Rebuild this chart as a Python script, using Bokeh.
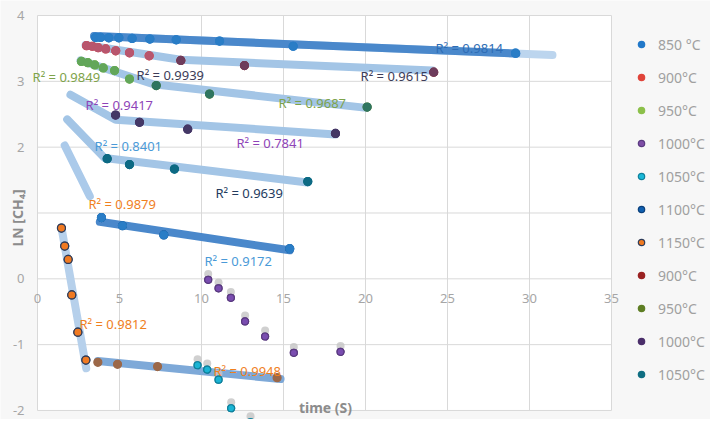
import math
from bokeh.plotting import figure
from bokeh.models import (ColumnDataSource, LabelSet, Label, Legend, LegendItem)
from bokeh.transform import dodge
from bokeh.core.properties import value
from bokeh.embed import file_html
from bokeh.resources import INLINE

FONT = "Noto Sans"

# ---------------- data ----------------
x_ticks = [0, 5, 10, 15, 20, 25, 30, 35]
x_tick_labels = ["0", "5", "10", "15", "20", "25", "30", "35"]
y_ticks = [-2, -1, 0, 1, 2, 3, 4]
y_tick_labels = ["-2", "-1", "0", "", "2", "3", "4"]   # "1" is hidden under the axis title

s850_x = [3.54, 3.84, 4.35, 4.96, 5.77, 6.85, 8.46, 11.10, 15.59, 29.15]
s850_y = [3.667, 3.667, 3.661, 3.661, 3.652, 3.642, 3.631, 3.612, 3.533, 3.428]
s900a_x = [2.99, 3.34, 3.70, 4.16, 4.77, 5.61, 6.81]
s900a_y = [3.542, 3.533, 3.512, 3.493, 3.463, 3.433, 3.388]
s900b_x = [8.74, 12.62, 24.16]
s900b_y = [3.318, 3.239, 3.139]
s950a_x = [2.68, 3.07, 3.49, 4.01, 4.70, 5.61]
s950a_y = [3.303, 3.284, 3.249, 3.204, 3.164, 3.034]
s950b_x = [7.24, 10.49, 20.10]
s950b_y = [2.936, 2.806, 2.609]
s1000b_x = [4.76, 6.22, 9.16, 18.17]
s1000b_y = [2.488, 2.378, 2.273, 2.209]
s1050b_x = [4.25, 5.61, 8.35, 16.48]
s1050b_y = [1.825, 1.736, 1.667, 1.478]
s1100_x = [3.90, 5.18, 7.70, 15.38]
s1100_y = [0.930, 0.806, 0.667, 0.458]
s1150a_x = [1.46, 1.66, 1.87, 2.09, 2.46, 2.95]
s1150a_y = [0.771, 0.497, 0.294, -0.244, -0.811, -1.234]
s1150b_x = [3.68, 4.88, 7.32, 14.61]
s1150b_y = [-1.269, -1.299, -1.333, -1.502]
s1000a_x = [10.41, 11.04, 11.79, 12.66, 13.88, 15.63, 18.48]
s1000a_y = [-0.015, -0.144, -0.289, -0.647, -0.876, -1.124, -1.109]
s1050a_x = [9.76, 10.35, 11.04, 11.81, 12.99, 14.60]
s1050a_y = [-1.313, -1.378, -1.532, -1.966, -2.179, -2.300]

# legend entries: label, series, key colour, key outline, colour seen in the plot
legend_labels = ["850 °C", "900°C", "950°C", "1000°C", "1050°C", "1100°C",
                 "1150°C", "900°C", "950°C", "1000°C", "1050°C"]
legend_series = [(s850_x, s850_y), (s900a_x, s900a_y), (s950a_x, s950a_y),
                 (s1000a_x, s1000a_y), (s1050a_x, s1050a_y), (s1100_x, s1100_y),
                 (s1150a_x, s1150a_y), (s900b_x, s900b_y), (s950b_x, s950b_y),
                 (s1000b_x, s1000b_y), (s1050b_x, s1050b_y)]
legend_colors = ["#2178c9", "#e0443a", "#8cc04a", "#7e4ea6", "#1ab8d8", "#1060b0",
                 "#f07a20", "#9a2222", "#5e7e24", "#4a2e6a", "#0f6e82"]
legend_lines = ["#2178c9", "#e0443a", "#8cc04a", "#5a3a80", "#0f7f9a", "#0b3f7a",
                "#2c3b5a", "#9a2222", "#5e7e24", "#4a2e6a", "#0f6e82"]
seen_colors = ["#2a7dc6", "#b8566e", "#62a65a", "#7a4db0", "#1ab4d4", "#2a7dc6",
               "#f07a22", "#6e3c5c", "#2f7560", "#443866", "#0d6a84"]
seen_lines = ["#2a7dc6", "#b8566e", "#62a65a", "#5a3a80", "#0f7f9a", "#2a7dc6",
              "#2c3b5a", "#6e3c5c", "#2f7560", "#443866", "#0d6a84"]
legend_sizes = [8, 8, 8, 7, 7, 8, 8, 8, 8, 8, 8]

# trend lines (end / kink points)
t850l_x = [3.45, 31.4];            t850l_y = [3.687, 3.400]
t850d_x = [3.45, 29.2];            t850d_y = [3.687, 3.423]
t900_x = [2.93, 8.72, 24.09];      t900_y = [3.552, 3.328, 3.164]
t950_x = [2.62, 7.07, 20.06];      t950_y = [3.318, 2.955, 2.597]
t1000_x = [2.01, 4.76, 18.17];     t1000_y = [2.796, 2.418, 2.194]
t1050_x = [1.81, 4.09, 16.46];     t1050_y = [2.422, 1.836, 1.463]
t1100s_x = [1.66, 3.19];           t1100s_y = [2.025, 1.254]
t1100_x = [3.80, 15.38];           t1100_y = [0.866, 0.433]
t1150s_x = [1.46, 2.97];           t1150s_y = [0.781, -1.358]
t1150_x = [3.68, 14.82];           t1150_y = [-1.249, -1.522]

r2_text = ["R² = 0.9814", "R² = 0.9615", "R² = 0.9939", "R² = 0.9849", "R² = 0.9687",
           "R² = 0.9417", "R² = 0.7841", "R² = 0.8401", "R² = 0.9639", "R² = 0.9879",
           "R² = 0.9172", "R² = 0.9812", "R² = 0.9948"]
r2_x = [24.27, 19.70, 6.04, -0.30, 14.70, 2.93, 12.13, 3.48, 10.85, 3.11, 10.18, 2.56, 10.73]
r2_y = [3.505, 3.075, 3.090, 3.060, 2.672, 2.642, 2.060, 2.015, 1.299, 1.134, 0.269, -0.687, -1.403]
r2_color = ["#2e6db5", "#3c3c58", "#3c3c58", "#7ea34a", "#7ea34a", "#8e44b8", "#8e44b8",
            "#4a9ad8", "#243b5e", "#f0801e", "#4a9ad8", "#f0801e", "#f0801e"]

# ---------------- figure ----------------
# the frame fills the canvas so that labels and legend outside the plot box are not clipped
p = figure(width=710, height=419, x_range=(-2.256, 41.037), y_range=(-2.137, 4.228),
           output_backend="svg", toolbar_location=None, min_border=0)
p.background_fill_color = "#f7f7f7"
p.border_fill_color = "#f7f7f7"
p.outline_line_color = None
p.xaxis.visible = False
p.yaxis.visible = False
p.xgrid.visible = False
p.ygrid.visible = False

# white plot area and its grid
p.quad(left=x_ticks[0], right=x_ticks[-1], bottom=y_ticks[0], top=y_ticks[-1],
       fill_color="#ffffff", line_color=None)
p.segment(x0=x_ticks, x1=x_ticks, y0=[y_ticks[0]] * len(x_ticks), y1=[y_ticks[-1]] * len(x_ticks),
          line_color="#d9d9d9", line_width=1)
p.segment(x0=[x_ticks[0]] * len(y_ticks), x1=[x_ticks[-1]] * len(y_ticks), y0=y_ticks, y1=y_ticks,
          line_color="#d9d9d9", line_width=1)

# trend lines
LIGHT = "#a3c5e6"
DARK = "#4a88cb"
trend_specs = [
    (t850l_x, t850l_y, "#bcd5ee"),
    (t850d_x, t850d_y, DARK),
    (t900_x, t900_y, LIGHT),
    (t950_x, t950_y, LIGHT),
    (t1000_x, t1000_y, LIGHT),
    (t1050_x, t1050_y, LIGHT),
    (t1100s_x, t1100s_y, "#abcaea"),
    (t1100_x, t1100_y, DARK),
    (t1150s_x, t1150s_y, "#b6d0eb"),
    (t1150_x, t1150_y, "#7ea9d8"),
]
for tx, ty, tc in trend_specs:
    p.line(tx, ty, line_color=tc, line_width=8, line_cap="round", line_join="round")

# shadows of the bead-like series
for sx, sy in [(s1000a_x, s1000a_y), (s1050a_x, s1050a_y)]:
    src = ColumnDataSource(dict(x=sx, y=sy))
    p.scatter(x="x", y=dodge("y", 0.09, range=p.y_range), source=src, size=8,
              fill_color="#c4c4c4", line_color=None, fill_alpha=0.8)

# each series in its key colour (used by the legend), then in the colour seen on the chart
items = []
for lab, (sx, sy), kc, kl, oc, ol, sz in zip(legend_labels, legend_series, legend_colors,
                                              legend_lines, seen_colors, seen_lines, legend_sizes):
    r = p.scatter(sx, sy, size=sz, fill_color=kc, line_color=kl, line_width=1.2)
    p.scatter(sx, sy, size=sz, fill_color=oc, line_color=ol, line_width=1.2)
    items.append(LegendItem(label=lab, renderers=[r]))
p.scatter(s1150b_x, s1150b_y, size=8, fill_color="#9c6848", line_color="#9c6848", line_width=1.2)

legend = Legend(items=items, location=(631, 35), margin=0, padding=0,
                glyph_width=20, glyph_height=16, label_height=20, spacing=13,
                label_standoff=7, border_line_color=None, background_fill_alpha=0,
                label_text_font=FONT, label_text_font_size="14px",
                label_text_color="#a0a0a0")
p.add_layout(legend)

# R² labels
r2_src = ColumnDataSource(dict(x=r2_x, y=r2_y, text=r2_text, color=r2_color))
p.add_layout(LabelSet(x="x", y="y", text="text", source=r2_src, text_color="color",
                      text_font=value(FONT), text_font_size="13px",
                      text_align="left", text_baseline="middle"))

# tick labels: x labels under the y = 0 line, y labels left of the plot box
xt_src = ColumnDataSource(dict(x=x_ticks, y=[0] * len(x_ticks), text=x_tick_labels))
p.add_layout(LabelSet(x="x", y="y", text="text", source=xt_src, y_offset=-20,
                      text_color="#a6a6a6", text_font=value(FONT), text_font_size="13px",
                      text_align="center", text_baseline="middle"))
yt_src = ColumnDataSource(dict(x=[x_ticks[0]] * len(y_ticks), y=y_ticks, text=y_tick_labels))
p.add_layout(LabelSet(x="x", y="y", text="text", source=yt_src, x_offset=-13,
                      text_color="#a6a6a6", text_font=value(FONT), text_font_size="13px",
                      text_align="right", text_baseline="middle"))

p.add_layout(Label(x=17.56, y=-1.96, text="time (S)", text_font=FONT,
                   text_font_size="14px", text_font_style="bold", text_color="#8c8c8c",
                   text_align="center", text_baseline="middle"))
p.add_layout(Label(x=-1.22, y=0.925, text="LN [CH₄]", text_font=FONT, angle=math.pi / 2,
                   text_font_size="14px", text_font_style="bold", text_color="#8c8c8c",
                   text_align="center", text_baseline="middle"))

open("out.html", "w").write(file_html(p, INLINE))
